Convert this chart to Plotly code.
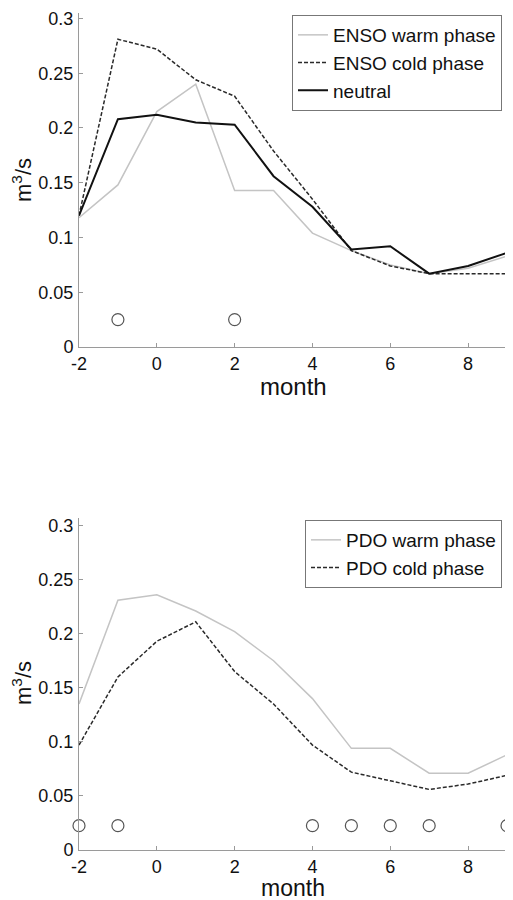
import plotly.graph_objects as go

months = [-2, -1, 0, 1, 2, 3, 4, 5, 6, 7, 8, 9]

enso_warm = [0.118, 0.148, 0.215, 0.240, 0.143, 0.143, 0.104, 0.088, 0.075, 0.067, 0.072, 0.083]
enso_cold = [0.120, 0.281, 0.272, 0.244, 0.229, 0.179, 0.135, 0.088, 0.074, 0.067, 0.067, 0.067]
neutral = [0.120, 0.208, 0.212, 0.205, 0.203, 0.156, 0.128, 0.089, 0.092, 0.067, 0.074, 0.086]
enso_sig_months = [-1, 2]
enso_sig_level = 0.025

pdo_warm = [0.135, 0.231, 0.236, 0.221, 0.202, 0.175, 0.140, 0.094, 0.094, 0.071, 0.071, 0.088]
pdo_cold = [0.097, 0.160, 0.193, 0.211, 0.165, 0.135, 0.097, 0.072, 0.064, 0.056, 0.061, 0.069]
pdo_sig_months = [-2, -1, 4, 5, 6, 7, 9]
pdo_sig_level = 0.0225

x_ticks = [-2, 0, 2, 4, 6, 8]
x_tick_labels = ["-2", "0", "2", "4", "6", "8"]
y_ticks = [0, 0.05, 0.1, 0.15, 0.2, 0.25, 0.3]
y_tick_labels = ["0", "0.05", "0.1", "0.15", "0.2", "0.25", "0.3"]

FONT = "Liberation Sans, Arial, sans-serif"
LIGHT = "#c4c4c4"
DARK = "#2a2a2a"
AXC = "#9a9a9a"

# page body has an 8px margin, so the figure is sized 8px smaller
W, H = 505, 892
L, R = 71, 6
PW = W - L - R

fig = go.Figure()

fig.add_trace(go.Scatter(x=months, y=enso_warm, mode="lines", name="ENSO warm phase",
                         line=dict(color=LIGHT, width=1.5), xaxis="x", yaxis="y", legend="legend"))
fig.add_trace(go.Scatter(x=months, y=enso_cold, mode="lines", name="ENSO cold phase",
                         line=dict(color=DARK, width=1.5, dash="4px,2px"), xaxis="x", yaxis="y", legend="legend"))
fig.add_trace(go.Scatter(x=months, y=neutral, mode="lines", name="neutral",
                         line=dict(color="#111111", width=2), xaxis="x", yaxis="y", legend="legend"))
fig.add_trace(go.Scatter(x=enso_sig_months, y=[enso_sig_level] * len(enso_sig_months), mode="markers",
                         marker=dict(symbol="circle-open", size=12, color="#555555", line=dict(width=1.2)),
                         showlegend=False, xaxis="x", yaxis="y", cliponaxis=False))

fig.add_trace(go.Scatter(x=months, y=pdo_warm, mode="lines", name="PDO warm phase",
                         line=dict(color=LIGHT, width=1.5), xaxis="x2", yaxis="y2", legend="legend2"))
fig.add_trace(go.Scatter(x=months, y=pdo_cold, mode="lines", name="PDO cold phase",
                         line=dict(color=DARK, width=1.5, dash="4px,2px"), xaxis="x2", yaxis="y2", legend="legend2"))
fig.add_trace(go.Scatter(x=pdo_sig_months, y=[pdo_sig_level] * len(pdo_sig_months), mode="markers",
                         marker=dict(symbol="circle-open", size=12, color="#555555", line=dict(width=1.2)),
                         showlegend=False, xaxis="x2", yaxis="y2", cliponaxis=False))

xcommon = dict(range=[-2, 9], tickvals=x_ticks, ticktext=x_tick_labels, showgrid=False, zeroline=False,
               showline=True, linecolor=AXC, linewidth=1, ticks="inside", ticklen=4,
               tickcolor=AXC, tickfont=dict(family=FONT, size=18, color="#111"),
               automargin=False)
ycommon = dict(tickvals=y_ticks, ticktext=y_tick_labels, showgrid=False, zeroline=False,
               showline=True, linecolor=AXC, linewidth=1, ticks="inside", ticklen=4,
               tickcolor=AXC, tickfont=dict(family=FONT, size=18, color="#111"),
               automargin=False, ticklabelstandoff=1)

legend_common = dict(bgcolor="white", bordercolor="#777777", borderwidth=1,
                     font=dict(family=FONT, size=19, color="#111"),
                     xanchor="right", yanchor="top", tracegroupgap=0, itemwidth=30)


def py(screen_y):
    return (H - (screen_y - 8)) / H


def px(screen_x):
    return ((screen_x - 8) - L) / PW


fig.update_layout(
    width=W, height=H,
    margin=dict(l=L, r=R, t=0, b=0),
    paper_bgcolor="white", plot_bgcolor="white",
    showlegend=True,
    xaxis=dict(**xcommon, anchor="y"),
    yaxis=dict(**ycommon, range=[0, 0.305], domain=[py(347), py(13)], anchor="x"),
    xaxis2=dict(**xcommon, anchor="y2"),
    yaxis2=dict(**ycommon, range=[0, 0.307], domain=[py(850), py(518)], anchor="x2"),
    legend=dict(**legend_common, x=px(502), y=py(15)),
    legend2=dict(**legend_common, x=px(502), y=py(520)),
    annotations=[
        dict(text="month", x=0.5, y=py(386), xref="paper", yref="paper",
             showarrow=False, font=dict(family=FONT, size=24, color="#111"),
             xanchor="center", yanchor="middle"),
        dict(text="month", x=0.5, y=py(888), xref="paper", yref="paper",
             showarrow=False, font=dict(family=FONT, size=23, color="#111"),
             xanchor="center", yanchor="middle"),
        dict(text="m<sup>3</sup>/s", x=px(22), y=py(180), xref="paper", yref="paper",
             showarrow=False, textangle=-90, font=dict(family=FONT, size=22, color="#111"),
             xanchor="center", yanchor="middle"),
        dict(text="m<sup>3</sup>/s", x=px(22), y=py(683), xref="paper", yref="paper",
             showarrow=False, textangle=-90, font=dict(family=FONT, size=22, color="#111"),
             xanchor="center", yanchor="middle"),
    ],
)

fig.write_html("out.html")
